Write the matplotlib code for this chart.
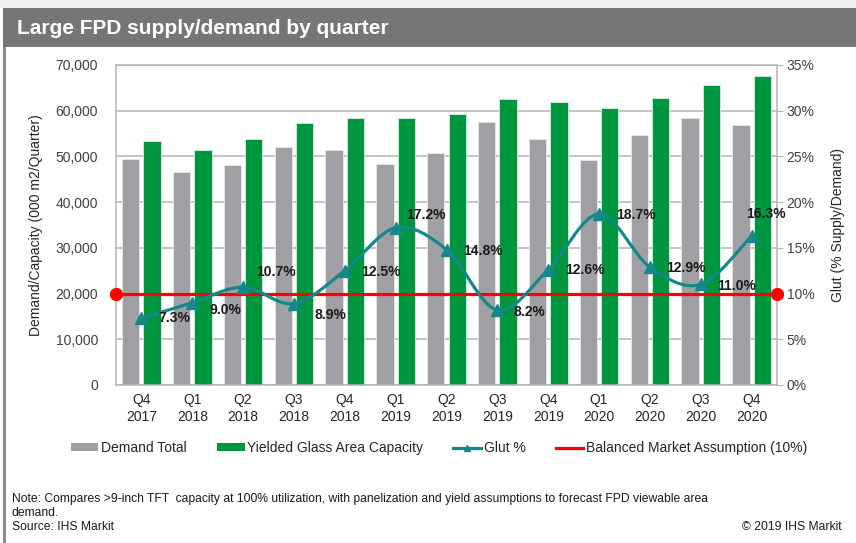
import matplotlib
matplotlib.use("Agg")
import matplotlib.pyplot as plt
import numpy as np
from matplotlib.path import Path
from matplotlib.patches import PathPatch, Rectangle, Patch
from matplotlib.lines import Line2D
from matplotlib.ticker import FuncFormatter, MultipleLocator

plt.rcParams['font.family'] = ['Liberation Sans', 'DejaVu Sans']

# ---- data ----
quarters = ["Q4\n2017", "Q1\n2018", "Q2\n2018", "Q3\n2018", "Q4\n2018", "Q1\n2019", "Q2\n2019",
            "Q3\n2019", "Q4\n2019", "Q1\n2020", "Q2\n2020", "Q3\n2020", "Q4\n2020"]
demand_total = [49400, 46700, 48200, 52000, 51300, 48400, 50700, 57500, 53900, 49300, 54700, 58500, 56800]
yielded_capacity = [53400, 51300, 53900, 57300, 58400, 58400, 59300, 62600, 61800, 60500, 62700, 65600, 67600]
glut_pct = [7.3, 9.0, 10.7, 8.9, 12.5, 17.2, 14.8, 8.2, 12.6, 18.7, 12.9, 11.0, 16.3]
balanced_pct = 10.0

# label offsets (pixels) for glut data labels
label_offsets = [(33, 0), (33, -7), (33, 15), (36, -11), (36, -1), (30, 13), (36, -1),
                 (32, -2), (37, 0), (37, -1), (36, -1), (36, -2), (14, 22)]

W, H = 856, 543
fig = plt.figure(figsize=(W / 100, H / 100), dpi=100)
fig.patch.set_facecolor('white')

# header strip and banner
fig.add_artist(Rectangle((0, 1 - 8 / H), 1, 8 / H, transform=fig.transFigure,
                         facecolor='#f0f0f0', edgecolor='none', zorder=0))
fig.add_artist(Rectangle((3 / W, 1 - 47 / H), 1 - 3 / W, 39 / H, transform=fig.transFigure,
                         facecolor='#767676', edgecolor='none', zorder=1))
fig.add_artist(Rectangle((3 / W, 0), 3 / W, 1 - 47 / H, transform=fig.transFigure,
                         facecolor='#8c8c8c', edgecolor='none', zorder=1))
fig.text(17 / W, 1 - 29 / H, "Large FPD supply/demand by quarter", color='white',
         fontsize=15, fontweight='bold', va='center', ha='left')

ax = fig.add_axes([116 / W, 1 - 385 / H, 661 / W, 320 / H])
x = np.arange(len(quarters))
grid_c = '#b4b4b4'
ax.bar(x - 0.21, demand_total, width=0.34, color='#a0a0a4', edgecolor='#e8e8e8', linewidth=0.6, zorder=2)
ax.bar(x + 0.21, yielded_capacity, width=0.34, color='#009640', edgecolor='#d8efe0', linewidth=0.6, zorder=2)
ax.set_ylim(0, 70000)
ax.set_xlim(-0.5, len(quarters) - 0.5)
ax.yaxis.set_major_locator(MultipleLocator(10000))
ax.yaxis.set_major_formatter(FuncFormatter(lambda v, p: f"{int(v):,}"))
ax.grid(axis='y', color=grid_c, linewidth=1.1, zorder=0)
ax.set_axisbelow(True)
ax.set_xticks(x)
ax.set_xticklabels(quarters, fontsize=10, color='#262626', linespacing=1.25)
ax.tick_params(axis='x', length=0, pad=6)
ax.tick_params(axis='y', length=0, labelsize=10, labelcolor='#404040', pad=13)
for s in ax.spines.values():
    s.set_color(grid_c)
    s.set_linewidth(1.1)
ax.set_ylabel("Demand/Capacity (000 m2/Quarter)", fontsize=10, color='#262626', labelpad=9)

ax2 = ax.twinx()
ax2.set_ylim(0, 35)
ax2.set_xlim(ax.get_xlim())
ax2.yaxis.set_major_locator(MultipleLocator(5))
ax2.yaxis.set_major_formatter(FuncFormatter(lambda v, p: f"{int(v)}%"))
ax2.tick_params(axis='y', length=4, color=grid_c, labelsize=10, labelcolor='#404040', pad=3)
for s in ax2.spines.values():
    s.set_visible(False)
ax2.set_ylabel("Glut (% Supply/Demand)", fontsize=10, color='#262626', labelpad=12)

# balanced market line
xl = ax.get_xlim()
ax2.plot([xl[0], xl[1]], [balanced_pct, balanced_pct], color='#ff0000', lw=2.3,
         marker='o', markersize=8.5, clip_on=False, zorder=3)

# smoothed glut line (Catmull-Rom to Bezier)
pts = np.column_stack([x, glut_pct]).astype(float)
verts = [pts[0]]
codes = [Path.MOVETO]
n = len(pts)
for i in range(n - 1):
    p0 = pts[i - 1] if i > 0 else pts[i]
    p1 = pts[i]
    p2 = pts[i + 1]
    p3 = pts[i + 2] if i + 2 < n else pts[i + 1]
    c1 = p1 + (p2 - p0) / 6.0
    c2 = p2 - (p3 - p1) / 6.0
    verts += [c1, c2, p2]
    codes += [Path.CURVE4] * 3
teal = '#15888a'
ax2.add_patch(PathPatch(Path(verts, codes), facecolor='none', edgecolor=teal, lw=2.3, zorder=4))
ax2.plot(x, glut_pct, linestyle='none', marker='^', markersize=8, color=teal, zorder=5)
for xi, v, (dx, dy) in zip(x, glut_pct, label_offsets):
    ax2.annotate(f"{v:.1f}%", (xi, v), xytext=(dx, dy), textcoords='offset pixels',
                 ha='center', va='center', fontsize=10, fontweight='bold', color='#1a1a1a', zorder=6)

# legend
handles = [Patch(facecolor='#a0a0a4', edgecolor='none'),
           Patch(facecolor='#009640', edgecolor='none'),
           Line2D([], [], color=teal, lw=2.3, marker='^', markersize=5),
           Line2D([], [], color='#ff0000', lw=2.3)]
labels = ["Demand Total", "Yielded Glass Area Capacity", "Glut %", "Balanced Market Assumption (10%)"]
leg = fig.legend(handles, labels, loc='center', bbox_to_anchor=(439 / W, 1 - 448 / H), ncol=4,
                 frameon=False, handlelength=2.0, handleheight=0.5, handletextpad=0.2,
                 columnspacing=2.15, prop={'size': 10})
for t in leg.get_texts():
    t.set_color('#262626')

# notes
note_fs = 8.7
fig.text(12 / W, 1 - 499 / H,
         "Note: Compares >9-inch TFT  capacity at 100% utilization, with panelization and yield assumptions to forecast FPD viewable area",
         fontsize=note_fs, va='center', ha='left', color='#1a1a1a')
fig.text(12 / W, 1 - 513 / H, "demand.", fontsize=note_fs, va='center', ha='left', color='#1a1a1a')
fig.text(12 / W, 1 - 527 / H, "Source: IHS Markit", fontsize=note_fs, va='center', ha='left', color='#1a1a1a')
fig.text(842 / W, 1 - 527 / H, "© 2019 IHS Markit", fontsize=note_fs, va='center', ha='right', color='#1a1a1a')

fig.savefig("out.png", dpi=100)
